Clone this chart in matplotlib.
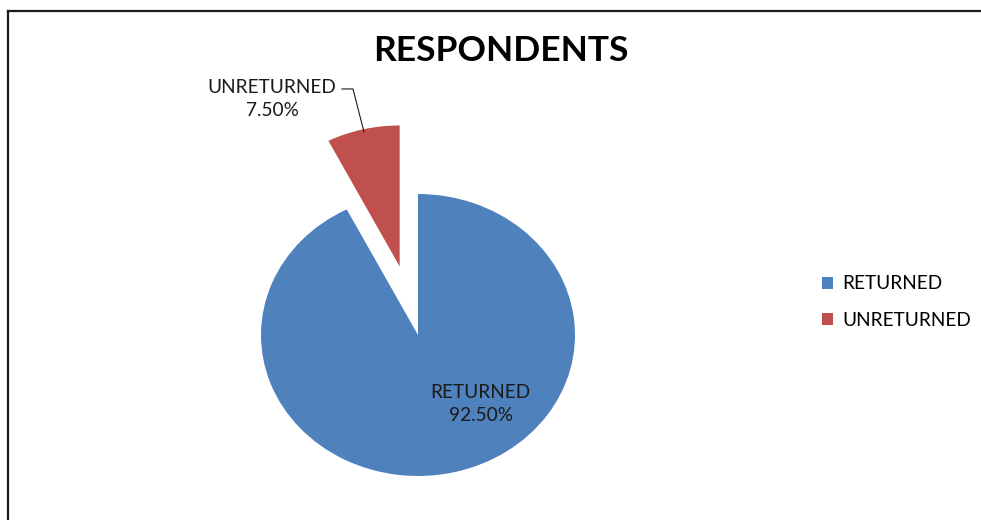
import numpy as np
import matplotlib.pyplot as plt
from matplotlib.lines import Line2D
from matplotlib.patches import Patch

labels = ["RETURNED", "UNRETURNED"]
values = [92.5, 7.5]
colors = ["#4F81BD", "#C0504D"]
explode = [0, 0.5]
title = "RESPONDENTS"

plt.rcParams["font.family"] = ["Lato", "DejaVu Sans"]

W, H = 981, 520
fig = plt.figure(figsize=(W / 100, H / 100), dpi=100)

# pie centre and radii in pixels (chart is slightly squashed vertically)
cx, cy, rx, ry = 418, 185, 157, 141
ax = fig.add_axes([0, 0, 1, 1])
wedges, _ = ax.pie(values, colors=colors, explode=explode, startangle=90,
                   counterclock=False, radius=1)
ax.set_aspect("auto")
ax.set_xlim(-cx / rx, (W - cx) / rx)
ax.set_ylim(-cy / ry, (H - cy) / ry)
ax.axis("off")

# data labels
pct = ["%.2f%%" % v for v in values]
ax.text(0.40, -0.49, labels[0] + "\n" + pct[0], ha="center", va="center",
        fontsize=13.7, color="#1a1a1a", linespacing=1.4)
ax.text(-0.93, 1.675, labels[1] + "\n" + pct[1], ha="center", va="center",
        fontsize=13.7, color="#1a1a1a", linespacing=1.45)
ax.plot([-0.484, -0.414, -0.344], [1.745, 1.745, 1.44], color="#1a1a1a", lw=0.8)

fig.text(501 / W, 1 - 51 / H, title, ha="center", va="center",
         fontsize=25.5, fontweight="bold", color="black")

handles = [Patch(facecolor=c, edgecolor="none") for c in colors]
fig.legend(handles, labels, loc="center left", bbox_to_anchor=(822 / W, 218 / H),
           frameon=False, fontsize=13.7, handlelength=0.6, handleheight=0.6,
           handletextpad=0.45, labelspacing=1.0, borderpad=0, borderaxespad=0)

# chart border (only left and top edges are visible)
fig.add_artist(Line2D([7.5 / W, 7.5 / W], [0, 1 - 11 / H], color="#1a1a1a", lw=1.6))
fig.add_artist(Line2D([7.5 / W, 1], [1 - 11 / H, 1 - 11 / H], color="#1a1a1a", lw=1.6))

fig.savefig("out.png", dpi=100)
